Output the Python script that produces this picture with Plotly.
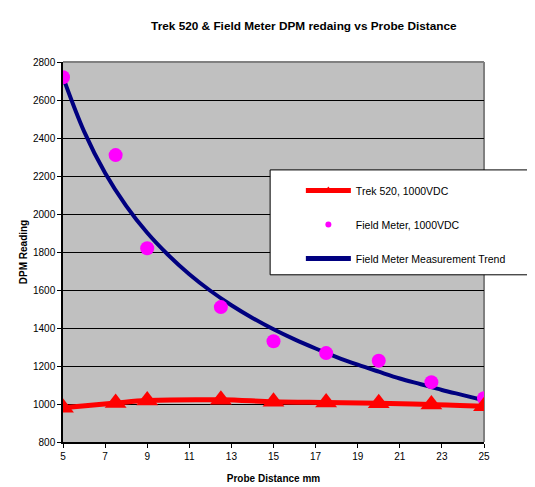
import plotly.graph_objects as go

# Data
distance_mm = [5, 7.5, 9, 12.5, 15, 17.5, 20, 22.5, 25]
trek_520 = [980, 1005, 1018, 1022, 1012, 1008, 1004, 998, 988]
field_meter = [2720, 2310, 1820, 1510, 1330, 1268, 1228, 1115, 1030]

trend_x = [5, 6, 7, 8, 9, 10, 11, 12, 13, 14, 15, 16, 17, 18, 19, 20, 21, 22, 23, 24, 25]
trend_y = [2720, 2435, 2216, 2043, 1901, 1784, 1683, 1596, 1520, 1453, 1393,
           1340, 1292, 1247, 1207, 1170, 1134, 1104, 1074, 1047, 1020]

x_ticks = [5, 7, 9, 11, 13, 15, 17, 19, 21, 23, 25]
y_ticks = [800, 1000, 1200, 1400, 1600, 1800, 2000, 2200, 2400, 2600, 2800]

FONT = "Liberation Sans, Arial, sans-serif"
RED = "#FF0000"
MAGENTA = "#FF00FF"
NAVY = "#000080"

fig = go.Figure()

fig.add_trace(go.Scatter(
    x=trend_x, y=trend_y, mode="lines", line=dict(color=NAVY, width=4, shape="spline"),
    showlegend=False, hoverinfo="skip"))
fig.add_trace(go.Scatter(
    x=distance_mm, y=field_meter, mode="markers",
    marker=dict(color=MAGENTA, size=14, symbol="circle"), showlegend=False))
fig.add_trace(go.Scatter(
    x=distance_mm, y=trek_520, mode="lines+markers",
    line=dict(color=RED, width=5, shape="spline"),
    marker=dict(color=RED, size=19, symbol="triangle-up"), showlegend=False))

# Legend proxies
fig.add_trace(go.Scatter(
    x=[None], y=[None], mode="lines+markers", name="Trek 520, 1000VDC",
    line=dict(color=RED, width=5), marker=dict(color=RED, size=8, symbol="triangle-up"),
    legendgroup="a"))
fig.add_trace(go.Scatter(
    x=[None], y=[None], mode="markers", name="Field Meter, 1000VDC",
    marker=dict(color=MAGENTA, size=6), legendgroup="b"))
fig.add_trace(go.Scatter(
    x=[None], y=[None], mode="lines", name="Field Meter Measurement Trend",
    line=dict(color=NAVY, width=5), legendgroup="c"))

fig.update_layout(
    width=535, height=487,
    margin=dict(l=55, r=59, t=54, b=46),
    paper_bgcolor="white", plot_bgcolor="#C0C0C0",
    font=dict(family=FONT, size=10, color="black"),
    title=dict(text="<b>Trek 520 & Field Meter DPM redaing vs Probe Distance</b>",
               x=0.553, xanchor="center", y=0.963, yanchor="middle",
               font=dict(family=FONT, size=11.8, color="black")),
    showlegend=True,
    legend=dict(x=0.565, xanchor="left", y=0.70, yanchor="top",
                bgcolor="rgba(0,0,0,0)", borderwidth=0,
                traceorder="grouped", tracegroupgap=15, itemwidth=45,
                font=dict(family=FONT, size=10.5, color="black")),
    shapes=[
        dict(type="rect", xref="paper", yref="paper", x0=0.492, x1=1.2, y0=0.440, y1=0.716,
             fillcolor="white", line=dict(color="black", width=1), layer="above"),
        dict(type="line", xref="paper", yref="paper", x0=0, x1=1, y0=1, y1=1,
             line=dict(color="#808080", width=2), layer="below"),
        dict(type="line", xref="paper", yref="paper", x0=1, x1=1, y0=0, y1=1,
             line=dict(color="#808080", width=2), layer="below"),
    ],
)

fig.update_xaxes(
    range=[5, 25], tickvals=x_ticks, ticktext=[str(v) for v in x_ticks],
    showgrid=False, zeroline=False, showline=True, linecolor="black", linewidth=1.5,
    ticks="outside", ticklen=4, tickcolor="black",
    title=dict(text="<b>Probe Distance mm</b>", font=dict(family=FONT, size=10), standoff=14))
fig.update_yaxes(
    range=[800, 2800], tickvals=y_ticks, ticktext=[str(v) for v in y_ticks],
    showgrid=True, gridcolor="black", gridwidth=1, zeroline=False,
    showline=True, linecolor="black", linewidth=1.5,
    ticks="outside", ticklen=4, tickcolor="black",
    title=dict(text="<b>DPM Reading</b>", font=dict(family=FONT, size=10), standoff=4))

fig.write_html("out.html")
